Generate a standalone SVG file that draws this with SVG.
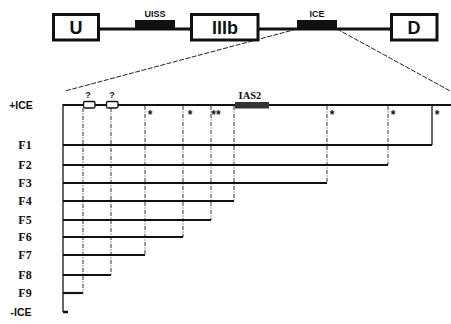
<svg xmlns="http://www.w3.org/2000/svg" width="451" height="324" viewBox="0 0 451 324">
<style>
.box{fill:#fff;stroke:#111;stroke-width:3}
.bl{font-family:"Liberation Sans",Arial,sans-serif;font-weight:bold;fill:#111;text-anchor:middle}
.sl{font-family:"Liberation Serif","Times New Roman",serif;font-weight:bold;fill:#111;text-anchor:middle}
.row{stroke:#111;stroke-width:2.2;fill:none}
.dash{stroke:#333;stroke-width:1;stroke-dasharray:4,1.5,1,1.5;fill:none}
.thin{stroke:#111;stroke-width:1.3;fill:none}
.zoom{stroke:#222;stroke-width:1;stroke-dasharray:5,1.5;fill:none}
.star{font-family:"Liberation Sans",Arial,sans-serif;font-weight:bold;font-size:12px;fill:#111;text-anchor:middle}
</style>
<rect width="451" height="324" fill="#fff"/>
<g id="connectors">
  <line x1="99" y1="29" x2="191" y2="29" stroke="#111" stroke-width="3"/>
  <line x1="258" y1="29" x2="391" y2="29" stroke="#111" stroke-width="3"/>
  <line class="zoom" x1="297" y1="29" x2="65" y2="91"/>
  <line class="zoom" x1="337" y1="29" x2="452" y2="92"/>
  <line x1="63" y1="105" x2="451" y2="105" stroke="#111" stroke-width="2"/>
  <line class="thin" x1="63" y1="104" x2="63" y2="312"/>
  <line x1="63" y1="312" x2="68" y2="312" stroke="#111" stroke-width="2.5"/>
  <line class="dash" x1="83" y1="108" x2="83" y2="293"/>
  <line class="dash" x1="111" y1="108" x2="111" y2="275"/>
  <line class="dash" x1="145" y1="106" x2="145" y2="255"/>
  <line class="dash" x1="183" y1="106" x2="183" y2="237"/>
  <line class="dash" x1="211" y1="106" x2="211" y2="220"/>
  <line class="dash" x1="234" y1="106" x2="234" y2="201"/>
  <line class="dash" x1="327" y1="106" x2="327" y2="183"/>
  <line class="dash" x1="388" y1="106" x2="388" y2="165"/>
  <line class="thin" x1="432" y1="106" x2="432" y2="145"/>
  <line class="row" x1="63" y1="145" x2="432" y2="145"/>
  <line class="row" x1="63" y1="165" x2="388" y2="165"/>
  <line class="row" x1="63" y1="183" x2="327" y2="183"/>
  <line class="row" x1="63" y1="201" x2="234" y2="201"/>
  <line class="row" x1="63" y1="220" x2="211" y2="220"/>
  <line class="row" x1="63" y1="237" x2="183" y2="237"/>
  <line class="row" x1="63" y1="255" x2="145" y2="255"/>
  <line class="row" x1="63" y1="275" x2="111" y2="275"/>
  <line class="row" x1="63" y1="293" x2="83" y2="293"/>
</g>
<g id="U"><rect class="box" x="53.5" y="14.5" width="45" height="25.5"/><text class="bl" x="76" y="34" font-size="18">U</text></g>
<g id="UISS"><rect x="135" y="20" width="40" height="8" fill="#111"/><text class="bl" x="155" y="17" font-size="9">UISS</text></g>
<g id="IIIb"><rect class="box" x="191.5" y="14.5" width="66.5" height="25.5"/><text class="bl" x="225" y="34" font-size="18">IIIb</text></g>
<g id="ICE"><rect x="297" y="20" width="40" height="8" fill="#111"/><text class="bl" x="317" y="17" font-size="9">ICE</text></g>
<g id="D"><rect class="box" x="391.5" y="14.5" width="45.5" height="25.5"/><text class="bl" x="414" y="34" font-size="18">D</text></g>
<g id="q1"><rect x="83.5" y="101.5" width="11.5" height="6.5" rx="1.5" fill="#fff" stroke="#111" stroke-width="1.3"/><text class="bl" x="88" y="98" font-size="9">?</text></g>
<g id="q2"><rect x="106.5" y="101.5" width="11.5" height="6.5" rx="1.5" fill="#fff" stroke="#111" stroke-width="1.3"/><text class="bl" x="112" y="98" font-size="9">?</text></g>
<g id="IAS2"><rect x="235" y="102" width="34" height="6.5" fill="#333"/><text class="sl" x="250" y="99" font-size="10.5">IAS2</text></g>
<g id="stars">
  <text class="star" x="150" y="119">*</text>
  <text class="star" x="190" y="119">*</text>
  <text class="star" x="216" y="119">**</text>
  <text class="star" x="332" y="119">*</text>
  <text class="star" x="393" y="119">*</text>
  <text class="star" x="437" y="119">*</text>
</g>
<g id="labels">
  <text class="bl" x="21" y="109" font-size="10.5">+ICE</text>
  <text class="sl" x="25" y="149" font-size="12">F1</text>
  <text class="sl" x="25" y="169" font-size="12">F2</text>
  <text class="sl" x="25" y="187" font-size="12">F3</text>
  <text class="sl" x="25" y="205" font-size="12">F4</text>
  <text class="sl" x="25" y="224" font-size="12">F5</text>
  <text class="sl" x="25" y="241" font-size="12">F6</text>
  <text class="sl" x="25" y="259" font-size="12">F7</text>
  <text class="sl" x="25" y="279" font-size="12">F8</text>
  <text class="sl" x="25" y="297" font-size="12">F9</text>
  <text class="bl" x="21" y="316" font-size="10.5">-ICE</text>
</g>
</svg>
